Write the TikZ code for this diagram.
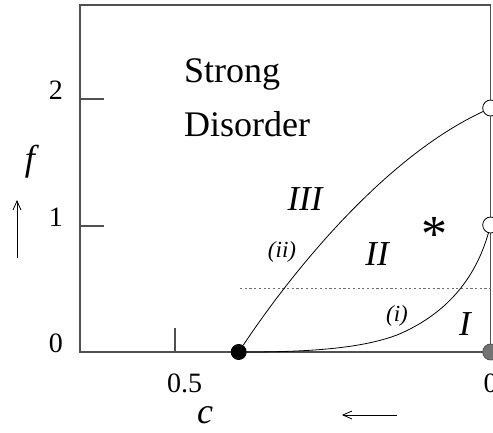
\documentclass[tikz,border=0pt]{standalone}
\usepackage{fontspec}
\setmainfont{Liberation Serif}
\usetikzlibrary{positioning,arrows.meta}
\definecolor{ejes}{RGB}{80,80,80}
\definecolor{relleno}{RGB}{115,115,115}
\definecolor{puntos}{RGB}{110,110,110}

\begin{document}
\begin{tikzpicture}[
  x=1pt, y=-1pt,
  eje/.style={draw=ejes, line width=1.1pt},
  frontera/.style={draw=black, line width=0.8pt},
  flecha/.style={draw=black, line width=0.8pt,
                 -{Straight Barb[length=9pt,width=8pt]}},
  numero/.style={font=\fontsize{28}{32}\selectfont, inner sep=0pt},
  rotulo/.style={font=\fontsize{36}{42}\selectfont, inner sep=0pt,
                 anchor=base west},
  nombreeje/.style={font=\fontsize{36}{42}\selectfont\itshape, inner sep=0pt,
                   anchor=base},
  zona/.style={font=\fontsize{35}{40}\selectfont\itshape, inner sep=0pt,
                 anchor=base},
  caso/.style={font=\fontsize{23}{27}\selectfont\itshape, inner sep=0pt},
  abierto/.style={circle, draw=black, fill=white, line width=0.8pt,
                  minimum size=16pt, inner sep=0pt},
  lleno/.style={circle, fill=black, minimum size=16pt, inner sep=0pt},
  gris/.style={circle, draw=ejes, fill=relleno, line width=0.8pt,
               minimum size=16pt, inner sep=0pt},
]
\useasboundingbox (0,0) rectangle (493,432);
% --- Marco y marcas de los ejes ---------------------------------------------
\draw[eje] (80,5) rectangle (490.7,352);
\foreach \y/\t in {99/2, 226/1, 352/0} {
  \draw[eje] (80,\y) -- (104,\y);
  \node[numero, anchor=base east] at (63,\y) {\t};
}
\draw[eje] (175,352) -- (175,328);
\node[numero, anchor=base] at (184.5,392) {0.5};
\node[numero, anchor=base] at (490.7,392) {0};
% --- Nombres de los ejes -----------------------------------------------------
\node[nombreeje] (efe) at (30,170) {f};
\coordinate (efeabajo) at (17,258);
\coordinate (efearriba) at (17,200);
\draw[flecha] (efeabajo) -- (efearriba);
\node[nombreeje] (ce) at (205,423) {c};
\coordinate (cederecha) at (397,415);
\coordinate (ceizquierda) at (342,415);
\draw[flecha] (cederecha) -- (ceizquierda);
% --- Linea punteada f = 1/2 -------------------------------------------------
\draw[puntos, line width=1pt, dash pattern=on 2.2pt off 2.5pt]
  (240,288.5) -- (490.7,288.5);
% --- Puntos fijos y fronteras -------------------------------------------------
\node[lleno] (negro) at (238.7,352) {};
\node[abierto] (arriba) at (490.7,108) {};
\node[abierto] (medio) at (490.7,225) {};
\node[gris] (abajo) at (490.7,352) {};
\coordinate (codo) at (397,335);
\draw[frontera] (negro) .. controls (294,269) and (386,156.5) .. (arriba);
\draw[frontera] (negro) .. controls (330,352) and (370,345) .. (codo)
  .. controls (445,315) and (475,280) .. (medio);
% --- Regiones ---------------------------------------------------------------
\node[rotulo] at (184,82) {Strong};
\node[rotulo] at (184,136) {Disorder};
\node[zona] at (305,210) {III};
\node[zona] at (377,265) {II};
\node[zona] at (465,335) {I};
\node[caso] at (282,252) {(ii)};
\node[caso] at (397,316) {(i)};
\node[font=\fontsize{52}{56}\selectfont, inner sep=0pt, anchor=base]
  (estrella) at (434,251) {*};
\end{tikzpicture}
\end{document}
